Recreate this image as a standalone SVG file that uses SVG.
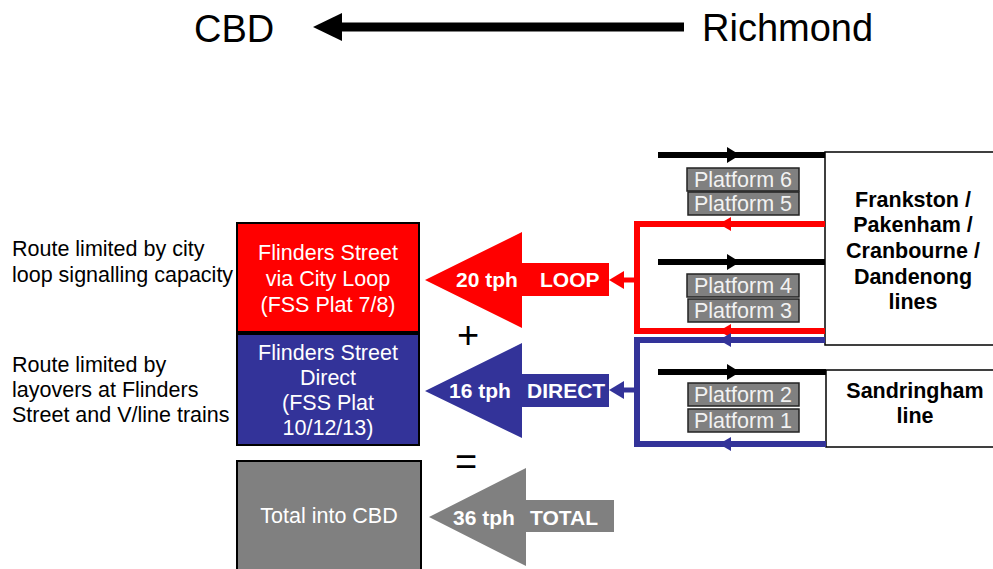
<svg xmlns="http://www.w3.org/2000/svg" width="993" height="569" viewBox="0 0 993 569">
  <style>
    text { font-family: "Liberation Sans", Arial, sans-serif; }
    .big { font-size: 38px; fill: #000; }
    .note { font-size: 21.5px; fill: #000; }
    .boxtxt { font-size: 21.5px; fill: #fff; text-anchor: middle; }
    .plat { font-size: 21.5px; fill: #f2f2f2; text-anchor: middle; }
    .lbl { font-size: 21px; font-weight: bold; fill: #fff; }
    .line-name { font-size: 21.5px; font-weight: bold; fill: #000; text-anchor: middle; }
    .op { font-size: 38px; fill: #000; text-anchor: middle; }
    .platbox { fill: #808080; stroke: #222; stroke-width: 1.5; }
    .linebox { fill: #fff; stroke: #000; stroke-width: 1.5; }
    .track { fill: none; stroke: #000; stroke-width: 6; }
    .red { fill: none; stroke: #ff0000; stroke-width: 6; }
    .blue { fill: none; stroke: #333399; stroke-width: 6; }
  </style>

  <!-- direction heading -->
  <g id="direction">
    <text class="big" x="194" y="42">CBD</text>
    <text class="big" x="702" y="41">Richmond</text>
    <line x1="340" y1="27" x2="684" y2="27" stroke="#000" stroke-width="9"/>
    <polygon points="313,27 342,13 342,41" fill="#000"/>
  </g>

  <!-- explanatory notes -->
  <g id="note-loop">
    <text class="note" x="12" y="256">Route limited by city</text>
    <text class="note" x="12" y="282">loop signalling capacity</text>
  </g>
  <g id="note-direct">
    <text class="note" x="12" y="372">Route limited by</text>
    <text class="note" x="12" y="397">layovers at Flinders</text>
    <text class="note" x="12" y="422">Street and V/line trains</text>
  </g>

  <!-- destination boxes -->
  <g id="box-loop">
    <rect x="237" y="223" width="182" height="109" fill="#ff0000" stroke="#000" stroke-width="2"/>
    <text class="boxtxt" x="328" y="260">Flinders Street</text>
    <text class="boxtxt" x="328" y="286">via City Loop</text>
    <text class="boxtxt" x="328" y="312">(FSS Plat 7/8)</text>
  </g>
  <g id="box-direct">
    <rect x="237" y="334" width="182" height="111" fill="#333399" stroke="#000" stroke-width="2"/>
    <text class="boxtxt" x="328" y="360">Flinders Street</text>
    <text class="boxtxt" x="328" y="385">Direct</text>
    <text class="boxtxt" x="328" y="410">(FSS Plat</text>
    <text class="boxtxt" x="328" y="435">10/12/13)</text>
  </g>
  <g id="box-total">
    <rect x="237" y="461" width="184" height="112" fill="#808080" stroke="#000" stroke-width="2"/>
    <text class="boxtxt" x="329" y="523">Total into CBD</text>
  </g>

  <!-- operators -->
  <g id="plus"><text class="op" x="468" y="348">+</text></g>
  <g id="equals"><text class="op" x="466" y="475">=</text></g>

  <!-- flow arrows -->
  <g id="arrow-loop">
    <polygon points="425,280 522,232 522,263 609,263 609,296 522,296 522,328" fill="#ff0000"/>
    <text class="lbl" x="456" y="287">20 tph</text>
    <text class="lbl" x="540" y="287">LOOP</text>
  </g>
  <g id="arrow-direct">
    <polygon points="425,391 522,343 522,374 609,374 609,407 522,407 522,438" fill="#333399"/>
    <text class="lbl" x="449" y="398">16 tph</text>
    <text class="lbl" x="527" y="398">DIRECT</text>
  </g>
  <g id="arrow-total">
    <polygon points="429,517 526,468 526,500 614,500 614,532 526,532 526,566" fill="#808080"/>
    <text class="lbl" x="453" y="525">36 tph</text>
    <text class="lbl" x="530" y="525">TOTAL</text>
  </g>

  <!-- platforms -->
  <g id="platform-6"><rect class="platbox" x="687" y="168" width="112" height="23"/><text class="plat" x="743" y="187">Platform 6</text></g>
  <g id="platform-5"><rect class="platbox" x="688" y="192" width="111" height="23"/><text class="plat" x="743" y="211">Platform 5</text></g>
  <g id="platform-4"><rect class="platbox" x="687" y="274" width="112" height="23"/><text class="plat" x="743" y="293">Platform 4</text></g>
  <g id="platform-3"><rect class="platbox" x="688" y="299" width="111" height="23"/><text class="plat" x="743" y="318">Platform 3</text></g>
  <g id="platform-2"><rect class="platbox" x="688" y="383" width="111" height="23"/><text class="plat" x="743" y="402">Platform 2</text></g>
  <g id="platform-1"><rect class="platbox" x="688" y="409" width="111" height="23"/><text class="plat" x="743" y="428">Platform 1</text></g>

  <!-- line groups -->
  <g id="lines-frankston">
    <rect class="linebox" x="825" y="152" width="180" height="193"/>
    <text class="line-name" x="913" y="207">Frankston /</text>
    <text class="line-name" x="913" y="232">Pakenham /</text>
    <text class="line-name" x="913" y="258">Cranbourne /</text>
    <text class="line-name" x="913" y="284">Dandenong</text>
    <text class="line-name" x="913" y="309">lines</text>
  </g>
  <g id="lines-sandringham">
    <rect class="linebox" x="826" y="370" width="180" height="77"/>
    <text class="line-name" x="915" y="398">Sandringham</text>
    <text class="line-name" x="915" y="423">line</text>
  </g>

  <!-- tracks and feeders -->
  <g id="connectors">
    <!-- outbound tracks -->
    <line class="track" x1="658" y1="155" x2="825" y2="155"/>
    <polygon points="740,155 727,147 727,163" fill="#000"/>
    <line class="track" x1="658" y1="262" x2="825" y2="262"/>
    <polygon points="740,262 727,254 727,270" fill="#000"/>
    <line class="track" x1="658" y1="372" x2="826" y2="372"/>
    <polygon points="740,372 727,364 727,380" fill="#000"/>

    <!-- loop feeder (red) -->
    <polyline class="red" points="825,224 637,224 637,331 825,331"/>
    <polygon points="719,224 731,217 731,231" fill="#ff0000"/>
    <polygon points="719,331 731,324 731,338" fill="#ff0000"/>
    <line x1="637" y1="280" x2="620" y2="280" stroke="#ff0000" stroke-width="5"/>
    <polygon points="609,280 624,271 624,289" fill="#ff0000"/>

    <!-- direct feeder (blue) -->
    <polyline class="blue" points="825,340 637,340 637,444 826,444"/>
    <polygon points="719,340 731,333 731,347" fill="#333399"/>
    <polygon points="719,444 731,437 731,451" fill="#333399"/>
    <line x1="637" y1="390" x2="620" y2="390" stroke="#333399" stroke-width="5"/>
    <polygon points="609,390 624,381 624,399" fill="#333399"/>
  </g>
</svg>
